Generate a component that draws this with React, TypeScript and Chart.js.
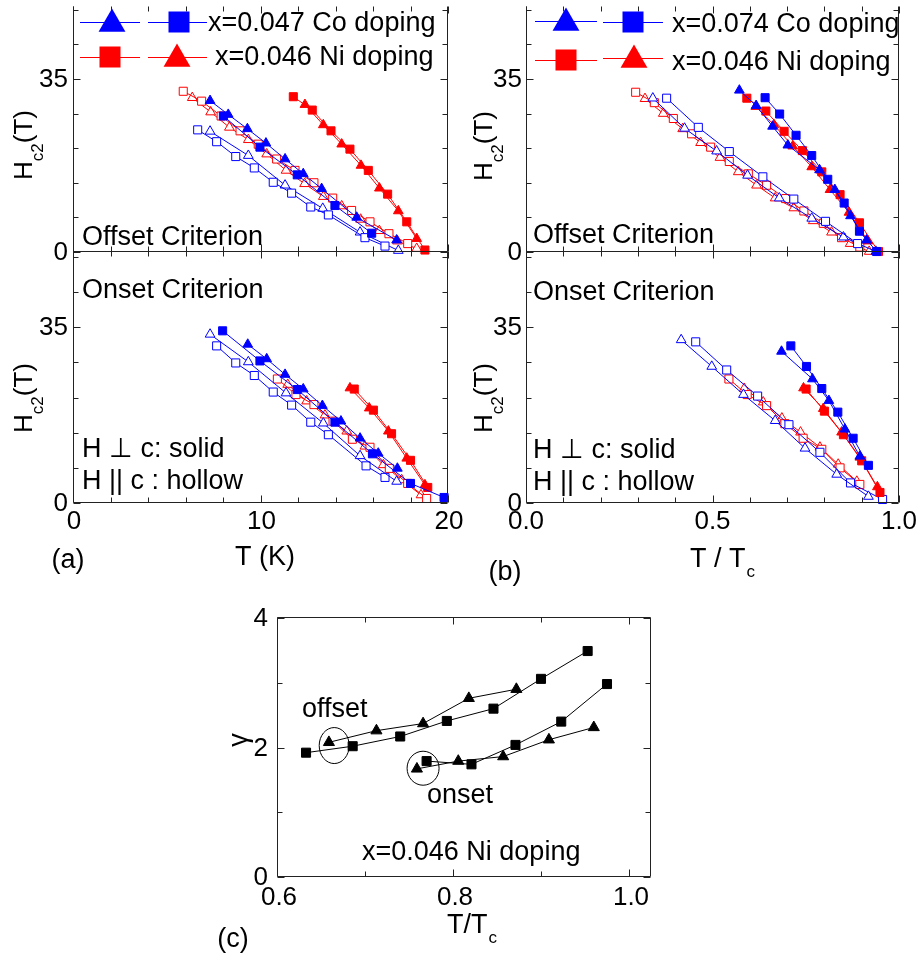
import React, { useEffect, useRef } from "react";
import { Chart, registerables } from "chart.js";

Chart.register(...registerables);

const W = 920;
const H = 965;
const FONT = '"Liberation Sans", Arial, Helvetica, sans-serif';
const BLUE = "#0000ff";
const RED = "#ff0000";

// ---------- Panel (a) top: offset criterion, T (K) vs Hc2 (T) ----------
const aOffCoTriSolidT = [7.31, 8.28, 9.3, 10.29, 11.31, 12.28, 13.26, 15.13, 17.26];
const aOffCoTriSolidH = [30.6, 27.8, 24.9, 22.0, 18.8, 15.8, 12.8, 7.0, 2.4];
const aOffCoSqSolidT = [8.02, 9.97, 11.96, 13.97, 15.93];
const aOffCoSqSolidH = [27.5, 21.2, 15.6, 9.4, 3.8];
const aOffCoSqHollowT = [6.65, 7.66, 8.68, 9.67, 10.68, 11.66, 12.68, 13.62, 15.57, 16.64];
const aOffCoSqHollowH = [24.7, 22.3, 19.3, 17.0, 14.1, 11.9, 9.1, 7.5, 2.9, 1.2];
const aOffCoTriHollowT = [7.31, 9.35, 11.31, 13.32, 15.31, 17.35];
const aOffCoTriHollowH = [24.4, 19.5, 13.5, 8.8, 4.0, 0.3];
const aOffNiSqHollowT = [5.88, 6.86, 7.9, 8.91, 9.88, 10.86, 11.84, 12.85, 13.85, 14.86, 15.84, 16.85, 17.85];
const aOffNiSqHollowH = [32.5, 30.5, 27.5, 24.5, 21.8, 18.8, 16.5, 14.0, 10.9, 8.4, 6.1, 3.7, 1.7];
const aOffNiTriHollowT = [6.36, 7.34, 8.34, 9.35, 10.33, 11.36, 12.35, 13.35, 14.33, 15.34, 16.34, 17.31, 18.33];
const aOffNiTriHollowH = [31.2, 28.3, 25.2, 22.7, 19.8, 16.5, 13.8, 11.2, 9.3, 6.6, 4.3, 2.2, 0.7];
const aOffNiSqSolidT = [11.75, 12.76, 13.76, 14.77, 15.75, 16.78, 17.8, 18.77];
const aOffNiSqSolidH = [31.4, 28.7, 24.5, 20.8, 16.5, 11.7, 6.1, 0.4];
const aOffNiTriSolidT = [12.37, 13.35, 14.33, 15.36, 16.34, 17.35, 18.33];
const aOffNiTriSolidH = [29.8, 25.7, 21.8, 17.5, 12.9, 8.3, 2.7];

// ---------- Panel (a) bottom: onset criterion ----------
const aOnCoSqSolidT = [7.98, 9.97, 11.96, 13.97, 15.97, 18.0, 19.79];
const aOnCoSqSolidH = [34.3, 28.3, 22.6, 16.1, 9.8, 3.9, 1.1];
const aOnCoTriSolidT = [9.32, 10.33, 11.31, 12.28, 13.3, 14.29, 15.31, 16.28, 17.3];
const aOnCoTriSolidH = [31.6, 28.7, 25.6, 22.7, 19.4, 16.3, 12.9, 9.9, 6.9];
const aOnCoTriHollowT = [7.31, 9.35, 11.36, 13.35, 15.31, 17.26];
const aOnCoTriHollowH = [33.6, 28.1, 21.9, 15.9, 9.4, 4.3];
const aOnCoSqHollowT = [7.66, 8.68, 9.67, 10.68, 11.66, 12.68, 13.62, 15.63, 16.64];
const aOnCoSqHollowH = [31.3, 27.9, 25.4, 22.1, 19.5, 16.1, 13.6, 7.4, 5.1];
const aOnNiSqHollowT = [10.9, 11.89, 12.85, 13.87, 14.9, 15.84, 16.87, 17.85, 18.86];
const aOnNiSqHollowH = [24.7, 21.6, 19.6, 16.3, 12.7, 11.1, 6.9, 3.9, 0.9];
const aOnNiTriHollowT = [11.45, 12.46, 13.44, 14.6, 15.57, 16.55, 17.53, 18.56];
const aOnNiTriHollowH = [23.6, 20.3, 17.5, 14.3, 11.3, 7.6, 4.6, 1.6];
const aOnNiTriSolidT = [14.77, 15.8, 16.82, 17.8, 18.77];
const aOnNiTriSolidH = [22.9, 18.9, 14.3, 8.9, 3.6];
const aOnNiSqSolidT = [15.0, 16.02, 16.99, 18.0, 18.92];
const aOnNiSqSolidH = [22.7, 18.5, 13.8, 8.5, 3.1];

// ---------- Panel (b) top: offset criterion, T/Tc ----------
const bOffCoSqHollowT = [0.377, 0.462, 0.545, 0.635, 0.718, 0.803, 0.889];
const bOffCoSqHollowH = [31.1, 25.2, 20.3, 15.2, 10.7, 6.2, 1.7];
const bOffCoTriHollowT = [0.34, 0.425, 0.511, 0.594, 0.679, 0.766, 0.851, 0.938];
const bOffCoTriHollowH = [31.1, 25.0, 20.4, 15.5, 10.9, 6.8, 3.0, 0.1];
const bOffNiSqHollowT = [0.294, 0.344, 0.395, 0.444, 0.495, 0.545, 0.596, 0.645, 0.696, 0.745, 0.797, 0.846, 0.895];
const bOffNiSqHollowH = [32.3, 30.2, 27.0, 23.9, 21.2, 18.3, 15.8, 13.5, 10.8, 8.3, 5.8, 2.9, 1.0];
const bOffNiTriHollowT = [0.319, 0.368, 0.42, 0.468, 0.52, 0.569, 0.618, 0.668, 0.718, 0.77, 0.819, 0.869, 0.92];
const bOffNiTriHollowH = [31.0, 28.0, 24.9, 22.1, 19.1, 16.2, 13.5, 10.9, 8.9, 6.3, 4.0, 1.7, 0.1];
const bOffCoTriSolidT = [0.572, 0.617, 0.661, 0.702, 0.787, 0.828, 0.87, 0.913];
const bOffCoTriSolidH = [32.7, 29.6, 25.4, 21.6, 16.6, 12.6, 7.3, 2.4];
const bOffCoSqSolidT = [0.641, 0.68, 0.724, 0.766, 0.809, 0.853, 0.894, 0.94];
const bOffCoSqSolidH = [31.2, 27.9, 23.6, 19.5, 14.7, 9.9, 4.2, 0.1];
const bOffNiSqSolidT = [0.592, 0.643, 0.692, 0.741, 0.793, 0.842, 0.894, 0.945];
const bOffNiSqSolidH = [31.1, 28.5, 24.4, 20.5, 16.2, 11.6, 5.9, 0.1];
const bOffNiTriSolidT = [0.616, 0.665, 0.715, 0.766, 0.815, 0.866, 0.917];
const bOffNiTriSolidH = [29.4, 25.7, 21.4, 17.2, 12.6, 8.0, 2.2];

// ---------- Panel (b) bottom: onset criterion ----------
const bOnCoTriHollowT = [0.416, 0.498, 0.583, 0.668, 0.748, 0.833, 0.918];
const bOnCoTriHollowH = [32.5, 27.2, 21.6, 16.4, 10.9, 5.7, 1.3];
const bOnCoSqHollowT = [0.455, 0.538, 0.621, 0.705, 0.788, 0.87, 0.956];
const bOnCoSqHollowH = [32.1, 26.5, 21.3, 15.6, 10.1, 4.0, 0.7];
const bOnNiSqHollowT = [0.544, 0.593, 0.645, 0.694, 0.743, 0.793, 0.842, 0.895];
const bOnNiSqHollowH = [24.7, 21.6, 19.4, 15.8, 12.9, 10.7, 7.0, 3.7];
const bOnNiTriHollowT = [0.585, 0.636, 0.686, 0.736, 0.788, 0.837, 0.887];
const bOnNiTriHollowH = [22.8, 20.1, 16.9, 14.1, 11.1, 7.7, 4.3];
const bOnCoSqSolidT = [0.71, 0.752, 0.793, 0.836, 0.877, 0.918];
const bOnCoSqSolidH = [31.3, 27.2, 22.8, 18.1, 12.9, 7.5];
const bOnCoTriSolidT = [0.685, 0.768, 0.812, 0.855, 0.895];
const bOnCoTriSolidH = [30.2, 24.7, 20.4, 14.7, 9.3];
const bOnNiTriSolidT = [0.744, 0.797, 0.846, 0.895, 0.942];
const bOnNiTriSolidH = [22.9, 18.8, 14.1, 9.1, 3.2];
const bOnNiSqSolidT = [0.751, 0.8, 0.851, 0.9, 0.949];
const bOnNiSqSolidH = [22.7, 18.3, 13.6, 8.4, 2.1];

// ---------- Panel (c): anisotropy gamma vs T/Tc ----------
const cOffsetSqT = [0.633, 0.686, 0.74, 0.793, 0.846, 0.9, 0.953];
const cOffsetSqG = [1.92, 2.02, 2.17, 2.41, 2.6, 3.06, 3.49];
const cOffsetTriT = [0.659, 0.713, 0.766, 0.818, 0.872];
const cOffsetTriG = [2.08, 2.26, 2.37, 2.76, 2.9];
const cOnsetSqT = [0.77, 0.821, 0.871, 0.923, 0.975];
const cOnsetSqG = [1.79, 1.74, 2.04, 2.4, 2.98];
const cOnsetTriT = [0.759, 0.806, 0.857, 0.909, 0.96];
const cOnsetTriG = [1.67, 1.79, 1.86, 2.12, 2.31];

// ---------- tick values / labels ----------
const aXTicks = [0, 2, 4, 6, 8, 10, 12, 14, 16, 18, 20];
const aXLabels = [0, 10, 20];
const bXTicks = [0, 0.1, 0.2, 0.3, 0.4, 0.5, 0.6, 0.7, 0.8, 0.9, 1.0];
const bXLabels = ["0.0", "0.5", "1.0"];
const hYTicks = [0, 7, 14, 21, 28, 35, 42, 49];
const hYLabels = [0, 35];
const cXTicks = [0.6, 0.7, 0.8, 0.9, 1.0];
const cXLabels = ["0.6", "0.8", "1.0"];
const cYTicks = [0, 1, 2, 3, 4];
const cYLabels = [0, 2, 4];

type Shape = "triangle" | "rect";
type Series = { xs: number[]; ys: number[]; color: string; shape: Shape; filled: boolean; r?: number };
type Ctx = CanvasRenderingContext2D;
type Fns = { sx: (v: number) => number; sy: (v: number) => number };

type PanelCfg = {
  area: [number, number, number, number];
  xr: [number, number];
  yr: [number, number];
  series: Series[];
  xTicks: number[];
  xMajor: number[];
  yTicks: number[];
  yMajor: number[];
  noTop?: boolean;
  extra: (ctx: Ctx, f: Fns) => void;
};

const S = (xs: number[], ys: number[], color: string, shape: Shape, filled: boolean, r?: number): Series => ({
  xs, ys, color, shape, filled, r,
});

function txt(ctx: Ctx, s: string, x: number, y: number, size = 27, align: CanvasTextAlign = "left", base: CanvasTextBaseline = "alphabetic") {
  ctx.font = `${size}px ${FONT}`;
  ctx.fillStyle = "#000";
  ctx.textAlign = align;
  ctx.textBaseline = base;
  ctx.fillText(s, x, y);
  return ctx.measureText(s).width;
}

function txtSub(ctx: Ctx, main: string, sub: string, x: number, y: number, drop: number) {
  const w = txt(ctx, main, x, y, 27);
  txt(ctx, sub, x + w + 1, y + drop, 17);
}

function triPath(ctx: Ctx, x: number, y: number, r: number) {
  ctx.beginPath();
  ctx.moveTo(x, y - r);
  ctx.lineTo(x + 0.866 * r, y + 0.5 * r);
  ctx.lineTo(x - 0.866 * r, y + 0.5 * r);
  ctx.closePath();
}

function legendItem(ctx: Ctx, x0: number, x1: number, cx: number, y: number, color: string, shape: Shape) {
  ctx.save();
  ctx.strokeStyle = color;
  ctx.fillStyle = color;
  ctx.lineWidth = 1;
  ctx.beginPath();
  ctx.moveTo(x0, y + 0.5);
  ctx.lineTo(x1, y + 0.5);
  ctx.stroke();
  if (shape === "rect") {
    ctx.fillRect(cx - 10.5, y - 10.5, 21, 21);
  } else {
    triPath(ctx, cx, y + 2, 15.5);
    ctx.fill();
  }
  ctx.restore();
}

function hc2Label(ctx: Ctx, xBase: number, yCenter: number) {
  ctx.save();
  ctx.translate(xBase, yCenter);
  ctx.rotate(-Math.PI / 2);
  ctx.fillStyle = "#000";
  ctx.textAlign = "left";
  ctx.textBaseline = "alphabetic";
  ctx.font = `26px ${FONT}`;
  const wH = ctx.measureText("H").width;
  const wT = ctx.measureText("(T)").width;
  ctx.font = `17px ${FONT}`;
  const wc = ctx.measureText("c2").width;
  let x = -(wH + wc + wT) / 2;
  ctx.font = `26px ${FONT}`;
  ctx.fillText("H", x, 0);
  x += wH;
  ctx.font = `17px ${FONT}`;
  ctx.fillText("c2", x, 11);
  x += wc;
  ctx.font = `26px ${FONT}`;
  ctx.fillText("(T)", x, 0);
  ctx.restore();
}

function drawFrame(ctx: Ctx, chart: any, cfg: PanelCfg, f: Fns) {
  const ca = chart.chartArea;
  const L = Math.round(ca.left) + 0.5;
  const R = Math.round(ca.right) - 0.5;
  const T = Math.round(ca.top) - 0.5;
  const B = Math.round(ca.bottom) - 0.5;
  ctx.save();
  ctx.strokeStyle = "#222";
  ctx.lineWidth = 1;
  ctx.beginPath();
  ctx.moveTo(L, B);
  ctx.lineTo(R, B);
  ctx.moveTo(L, B);
  ctx.lineTo(L, T);
  ctx.moveTo(R, B);
  ctx.lineTo(R, T);
  if (!cfg.noTop) {
    ctx.moveTo(L, T);
    ctx.lineTo(R, T);
  }
  for (const v of cfg.xTicks) {
    const x = Math.round(f.sx(v)) + 0.5;
    const len = cfg.xMajor.includes(v) ? 7 : 5;
    ctx.moveTo(x, B);
    ctx.lineTo(x, B - len);
    ctx.moveTo(x, T);
    ctx.lineTo(x, T + len);
  }
  for (const v of cfg.yTicks) {
    const y = Math.round(f.sy(v)) + 0.5;
    const len = cfg.yMajor.includes(v) ? 7 : 5;
    ctx.moveTo(L, y);
    ctx.lineTo(L + len, y);
    ctx.moveTo(R, y);
    ctx.lineTo(R - len, y);
  }
  ctx.stroke();
  ctx.restore();
}

function Panel({ cfg }: { cfg: PanelCfg }) {
  const ref = useRef<HTMLCanvasElement>(null);
  useEffect(() => {
    const c = ref.current;
    if (!c) return;
    const [l, t, r, b] = cfg.area;
    const chart = new Chart(c, {
      type: "scatter",
      data: {
        datasets: cfg.series.map((s) => ({
          data: s.xs.map((x, i) => ({ x, y: s.ys[i] })),
          showLine: true,
          borderColor: s.color,
          borderWidth: 1,
          pointStyle: s.shape,
          pointRadius: s.r ?? (s.shape === "rect" ? 5.7 : 5.6),
          pointBackgroundColor: s.filled ? s.color : "#ffffff",
          pointBorderColor: s.color,
          pointBorderWidth: 1,
          clip: false as any,
        })),
      },
      options: {
        responsive: false,
        maintainAspectRatio: false,
        animation: false,
        events: [],
        devicePixelRatio: 1,
        layout: { padding: { left: l, top: t, right: W - r, bottom: H - b } },
        plugins: { legend: { display: false }, tooltip: { enabled: false }, title: { display: false } },
        scales: {
          x: { type: "linear", display: false, min: cfg.xr[0], max: cfg.xr[1] },
          y: { type: "linear", display: false, min: cfg.yr[0], max: cfg.yr[1] },
        },
      },
      plugins: [
        {
          id: "decor",
          afterDraw(ch: any) {
            const ctx = ch.ctx as Ctx;
            const f: Fns = {
              sx: (v) => ch.scales.x.getPixelForValue(v),
              sy: (v) => ch.scales.y.getPixelForValue(v),
            };
            drawFrame(ctx, ch, cfg, f);
            ctx.save();
            cfg.extra(ctx, f);
            ctx.restore();
          },
        },
      ],
    } as any);
    return () => chart.destroy();
  }, []);
  return (
    <canvas
      ref={ref}
      width={W}
      height={H}
      style={{ position: "absolute", left: 0, top: 0, width: W, height: H }}
    />
  );
}

const yLabelsLeft = (ctx: Ctx, f: Fns, vals: number[], xRight: number) => {
  for (const v of vals) txt(ctx, String(v), xRight, f.sy(v) + 1, 26, "right", "middle");
};

const panelA1: PanelCfg = {
  area: [73, 0, 448, 252],
  xr: [0, 20],
  yr: [0, 49.6],
  noTop: true,
  xTicks: aXTicks,
  xMajor: aXLabels,
  yTicks: hYTicks,
  yMajor: hYLabels,
  series: [
    S(aOffCoTriSolidT, aOffCoTriSolidH, BLUE, "triangle", true),
    S(aOffCoSqSolidT, aOffCoSqSolidH, BLUE, "rect", true),
    S(aOffNiSqSolidT, aOffNiSqSolidH, RED, "rect", true),
    S(aOffNiTriSolidT, aOffNiTriSolidH, RED, "triangle", true),
    S(aOffCoSqHollowT, aOffCoSqHollowH, BLUE, "rect", false),
    S(aOffCoTriHollowT, aOffCoTriHollowH, BLUE, "triangle", false),
    S(aOffNiSqHollowT, aOffNiSqHollowH, RED, "rect", false),
    S(aOffNiTriHollowT, aOffNiTriHollowH, RED, "triangle", false),
  ],
  extra: (ctx, f) => {
    yLabelsLeft(ctx, f, hYLabels, 68);
    hc2Label(ctx, 32, 145);
    legendItem(ctx, 80, 140, 112, 22, BLUE, "triangle");
    legendItem(ctx, 148, 207, 179, 22, BLUE, "rect");
    txt(ctx, "x=0.047 Co doping", 208, 31);
    legendItem(ctx, 80, 140, 110, 57, RED, "rect");
    legendItem(ctx, 148, 207, 177, 57, RED, "triangle");
    txt(ctx, "x=0.046 Ni doping", 215, 65);
    txt(ctx, "Offset Criterion", 82, 245);
  },
};

const panelA2: PanelCfg = {
  area: [73, 252, 448, 503],
  xr: [0, 20],
  yr: [0, 50],
  xTicks: aXTicks,
  xMajor: aXLabels,
  yTicks: hYTicks,
  yMajor: hYLabels,
  series: [
    S(aOnCoSqSolidT, aOnCoSqSolidH, BLUE, "rect", true),
    S(aOnCoTriSolidT, aOnCoTriSolidH, BLUE, "triangle", true),
    S(aOnNiTriSolidT, aOnNiTriSolidH, RED, "triangle", true),
    S(aOnNiSqSolidT, aOnNiSqSolidH, RED, "rect", true),
    S(aOnCoTriHollowT, aOnCoTriHollowH, BLUE, "triangle", false),
    S(aOnCoSqHollowT, aOnCoSqHollowH, BLUE, "rect", false),
    S(aOnNiSqHollowT, aOnNiSqHollowH, RED, "rect", false),
    S(aOnNiTriHollowT, aOnNiTriHollowH, RED, "triangle", false),
  ],
  extra: (ctx, f) => {
    yLabelsLeft(ctx, f, hYLabels, 68);
    for (const v of aXLabels) txt(ctx, String(v), f.sx(v) + 1, 522, 26, "center", "middle");
    hc2Label(ctx, 32, 398);
    txt(ctx, "Onset Criterion", 82, 298);
    txt(ctx, "H \u22A5 c: solid", 82, 457);
    txt(ctx, "H || c : hollow", 82, 489);
    txt(ctx, "T (K)", 265, 558, 27, "center", "middle");
    txt(ctx, "(a)", 68, 561, 27, "center", "middle");
  },
};

const panelB1: PanelCfg = {
  area: [526, 0, 899, 252],
  xr: [0, 1],
  yr: [0, 49.6],
  noTop: true,
  xTicks: bXTicks,
  xMajor: [0, 0.5, 1.0],
  yTicks: hYTicks,
  yMajor: hYLabels,
  series: [
    S(bOffCoTriSolidT, bOffCoTriSolidH, BLUE, "triangle", true),
    S(bOffCoSqSolidT, bOffCoSqSolidH, BLUE, "rect", true),
    S(bOffNiSqSolidT, bOffNiSqSolidH, RED, "rect", true),
    S(bOffNiTriSolidT, bOffNiTriSolidH, RED, "triangle", true),
    S(bOffCoSqHollowT, bOffCoSqHollowH, BLUE, "rect", false),
    S(bOffCoTriHollowT, bOffCoTriHollowH, BLUE, "triangle", false),
    S(bOffNiSqHollowT, bOffNiSqHollowH, RED, "rect", false),
    S(bOffNiTriHollowT, bOffNiTriHollowH, RED, "triangle", false),
  ],
  extra: (ctx, f) => {
    yLabelsLeft(ctx, f, hYLabels, 522);
    hc2Label(ctx, 492, 146);
    legendItem(ctx, 535, 597, 566, 21, BLUE, "triangle");
    legendItem(ctx, 603, 663, 633, 22, BLUE, "rect");
    txt(ctx, "x=0.074 Co doping", 672, 32);
    legendItem(ctx, 535, 597, 566, 60, RED, "rect");
    legendItem(ctx, 603, 663, 634, 58, RED, "triangle");
    txt(ctx, "x=0.046 Ni doping", 672, 70);
    txt(ctx, "Offset Criterion", 533, 243);
  },
};

const panelB2: PanelCfg = {
  area: [526, 252, 899, 503],
  xr: [0, 1],
  yr: [0, 50],
  xTicks: bXTicks,
  xMajor: [0, 0.5, 1.0],
  yTicks: hYTicks,
  yMajor: hYLabels,
  series: [
    S(bOnCoSqSolidT, bOnCoSqSolidH, BLUE, "rect", true),
    S(bOnCoTriSolidT, bOnCoTriSolidH, BLUE, "triangle", true),
    S(bOnNiTriSolidT, bOnNiTriSolidH, RED, "triangle", true),
    S(bOnNiSqSolidT, bOnNiSqSolidH, RED, "rect", true),
    S(bOnCoTriHollowT, bOnCoTriHollowH, BLUE, "triangle", false),
    S(bOnCoSqHollowT, bOnCoSqHollowH, BLUE, "rect", false),
    S(bOnNiSqHollowT, bOnNiSqHollowH, RED, "rect", false),
    S(bOnNiTriHollowT, bOnNiTriHollowH, RED, "triangle", false),
  ],
  extra: (ctx, f) => {
    yLabelsLeft(ctx, f, hYLabels, 522);
    bXLabels.forEach((s) => txt(ctx, s, f.sx(parseFloat(s)), 522, 26, "center", "middle"));
    hc2Label(ctx, 492, 398);
    txt(ctx, "Onset Criterion", 533, 300);
    txt(ctx, "H \u22A5 c: solid", 533, 458);
    txt(ctx, "H || c : hollow", 533, 490);
    txtSub(ctx, "T / T", "c", 690, 567, 10);
    txt(ctx, "(b)", 505, 573, 27, "center", "middle");
  },
};

const panelC: PanelCfg = {
  area: [277, 618, 651, 877],
  xr: [0.6, 1.025],
  yr: [0, 4],
  xTicks: cXTicks,
  xMajor: [0.6, 0.8, 1.0],
  yTicks: cYTicks,
  yMajor: cYLabels,
  series: [
    S(cOffsetSqT, cOffsetSqG, "#000", "rect", true, 6.4),
    S(cOffsetTriT, cOffsetTriG, "#000", "triangle", true, 6.4),
    S(cOnsetSqT, cOnsetSqG, "#000", "rect", true, 6.4),
    S(cOnsetTriT, cOnsetTriG, "#000", "triangle", true, 6.4),
  ],
  extra: (ctx, f) => {
    for (const v of cYLabels) txt(ctx, String(v), 268, f.sy(v) + 1, 26, "right", "middle");
    cXLabels.forEach((s) => txt(ctx, s, f.sx(parseFloat(s)) + 2, 898, 26, "center", "middle"));
    // circles around the lowest-temperature points
    ctx.strokeStyle = "#000";
    ctx.lineWidth = 1;
    ctx.beginPath();
    ctx.ellipse(f.sx(0.665), f.sy(2.03), 15, 18, 0, 0, Math.PI * 2);
    ctx.stroke();
    ctx.beginPath();
    ctx.ellipse(f.sx(0.766), f.sy(1.68), 16, 17, 0, 0, Math.PI * 2);
    ctx.stroke();
    txt(ctx, "offset", 302, 717);
    txt(ctx, "onset", 427, 803);
    txt(ctx, "x=0.046 Ni doping", 362, 860);
    txtSub(ctx, "T/T", "c", 447, 933, 10);
    txt(ctx, "(c)", 233, 940, 27, "center", "middle");
    ctx.save();
    ctx.translate(240, 740);
    ctx.rotate(-Math.PI / 2);
    txt(ctx, "\u03B3", 0, 0, 27, "center", "middle");
    ctx.restore();
  },
};

export default function App() {
  return (
    <div
      style={{
        position: "absolute",
        left: 0,
        top: 0,
        width: W,
        height: H,
        background: "#ffffff",
        overflow: "hidden",
      }}
    >
      <Panel cfg={panelA1} />
      <Panel cfg={panelA2} />
      <Panel cfg={panelB1} />
      <Panel cfg={panelB2} />
      <Panel cfg={panelC} />
    </div>
  );
}
